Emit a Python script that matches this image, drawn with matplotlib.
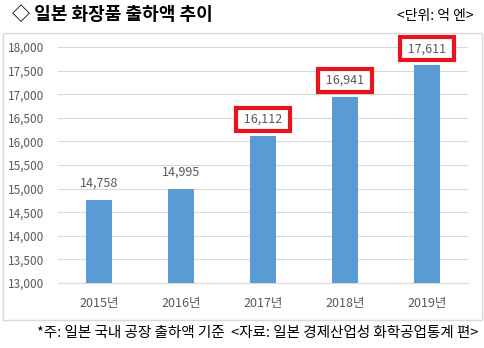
import matplotlib.pyplot as plt
from matplotlib.patches import Rectangle
from matplotlib.ticker import FuncFormatter

plt.rcParams["font.family"] = ["Noto Sans CJK KR", "DejaVu Sans"]

years = ["2015년", "2016년", "2017년", "2018년", "2019년"]
shipments = [14758, 14995, 16112, 16941, 17611]
boxed = [False, False, True, True, True]

bar_color = "#5b9bd5"
text_gray = "#595959"
grid_gray = "#d9d9d9"

fig = plt.figure(figsize=(4.85, 3.48), dpi=100)

# outer frame around the chart area
fig.patches.append(Rectangle((3 / 485, 28 / 348), 479 / 485, 287 / 348,
                             transform=fig.transFigure, fill=False,
                             edgecolor=grid_gray, linewidth=1.0))

ax = fig.add_axes([58 / 485, 65 / 348, 410 / 485, 236 / 348])

x = range(len(years))
ax.bar(x, shipments, width=0.31, color=bar_color, zorder=2)

ax.set_ylim(13000, 18000)
ax.set_xlim(-0.5, len(years) - 0.5)
ax.set_yticks(range(13000, 18001, 500))
ax.yaxis.set_major_formatter(FuncFormatter(lambda v, p: f"{int(v):,}"))
ax.set_xticks(list(x))
ax.set_xticklabels(years)

ax.grid(axis="y", color=grid_gray, linewidth=0.8, zorder=0)
ax.set_axisbelow(True)
for side in ["top", "right", "left"]:
    ax.spines[side].set_visible(False)
ax.spines["bottom"].set_color(grid_gray)
ax.spines["bottom"].set_linewidth(0.8)
ax.tick_params(axis="both", length=0, labelsize=8.5, colors=text_gray)
ax.tick_params(axis="y", pad=10)
ax.tick_params(axis="x", pad=10, labelsize=9)

for xi, val, box in zip(x, shipments, boxed):
    label = f"{val:,}"
    kw = {}
    if box:
        label = f" {label} "
        kw["bbox"] = dict(boxstyle="square,pad=0.4", facecolor="white",
                          edgecolor="#e8141e", linewidth=3)
    ax.annotate(label, (xi, val), xytext=(0, 12), textcoords="offset points",
                ha="center", va="center", fontsize=9, color=text_gray, **kw)

fig.text(12 / 485, 1 - 14 / 348, "◇ 일본 화장품 출하액 추이", fontsize=13,
         fontweight="bold", va="center", ha="left", color="black")
fig.text(474 / 485, 1 - 16 / 348, "<단위: 억 엔>", fontsize=10,
         va="center", ha="right", color="black")
fig.text(478 / 485, 1 - 333 / 348,
         "*주: 일본 국내 공장 출하액 기준  <자료: 일본 경제산업성 화학공업통계 편>",
         fontsize=10.5, va="center", ha="right", color="black")

fig.savefig("out.png", dpi=100)
